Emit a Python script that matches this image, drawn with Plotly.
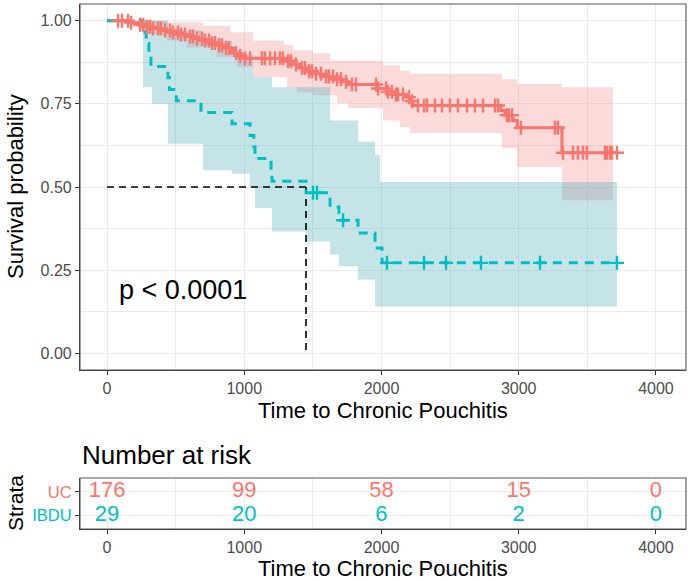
import numpy as np
import plotly.graph_objects as go

# ---------------- data ----------------
uc_time = [0, 170, 230, 280, 330, 400, 460, 520, 580, 640, 700, 760, 810, 860, 900, 930,
           960, 1000, 1310, 1350, 1400, 1450, 1500, 1560, 1650, 1720, 1760, 1967, 2040,
           2100, 2186, 2210, 2230, 2870, 2900, 2958, 2990, 3315, 3716]
uc_surv = [1.0, 0.994, 0.988, 0.982, 0.976, 0.970, 0.964, 0.958, 0.952, 0.946, 0.940,
           0.933, 0.926, 0.918, 0.910, 0.902, 0.894, 0.887, 0.878, 0.868, 0.858, 0.848,
           0.840, 0.832, 0.824, 0.816, 0.808, 0.796, 0.786, 0.778, 0.770, 0.758, 0.745,
           0.730, 0.716, 0.700, 0.678, 0.603, 0.603]
uc_upper_time = [0, 440, 700, 900, 1064, 1290, 1355, 1501, 1625, 2011, 2135, 2208, 2878,
                 2987, 3315, 3687]
uc_upper = [1.0, 0.995, 0.985, 0.965, 0.94, 0.926, 0.911, 0.902, 0.88, 0.866, 0.85, 0.84,
            0.824, 0.81, 0.80, 0.80]
uc_lower_time = [0, 170, 262, 437, 583, 801, 947, 1064, 1311, 1384, 1501, 1676, 1756, 2011,
                 2135, 2208, 2878, 2987, 3315, 3687]
uc_lower = [1.0, 0.98, 0.96, 0.94, 0.92, 0.89, 0.86, 0.83, 0.80, 0.785, 0.776, 0.752, 0.737,
            0.70, 0.68, 0.662, 0.617, 0.56, 0.46, 0.46]
uc_censor = [80, 109, 153, 175, 240, 262, 291, 313, 335, 372, 393, 423, 459, 481, 517, 539,
             568, 605, 627, 656, 692, 714, 743, 765, 787, 816, 838, 867, 889, 940, 969, 1005,
             1042, 1129, 1151, 1188, 1224, 1260, 1282, 1319, 1341, 1377, 1421, 1443, 1472,
             1494, 1523, 1559, 1596, 1617, 1647, 1676, 1705, 1741, 1785, 1814, 1960, 1975,
             2033, 2047, 2076, 2106, 2120, 2157, 2200, 2222, 2266, 2310, 2332, 2390, 2441,
             2499, 2557, 2623, 2681, 2740, 2827, 2849, 2914, 2929, 2951, 3016, 3264, 3286,
             3322, 3395, 3431, 3468, 3497, 3628, 3643, 3665, 3680, 3716]

ibdu_time = [0, 262, 285, 305, 320, 444, 455, 505, 685, 911, 1042, 1070, 1078, 1195, 1202,
             1450, 1625, 1690, 1829, 1953, 2004, 3716]
ibdu_surv = [1.0, 0.966, 0.931, 0.897, 0.862, 0.828, 0.793, 0.759, 0.724, 0.690, 0.655,
             0.621, 0.586, 0.552, 0.517, 0.483, 0.440, 0.400, 0.362, 0.317, 0.272, 0.272]
ibdu_upper_time = [0, 262, 444, 685, 911, 1064, 1202, 1625, 1829, 1953, 1989, 3716]
ibdu_upper = [1.0, 1.0, 0.97, 0.94, 0.90, 0.83, 0.80, 0.70, 0.636, 0.597, 0.515, 0.515]
ibdu_lower_time = [0, 262, 328, 444, 700, 911, 1042, 1078, 1202, 1450, 1625, 1690, 1829,
                   1953, 3716]
ibdu_lower = [1.0, 0.80, 0.75, 0.63, 0.55, 0.54, 0.50, 0.437, 0.366, 0.336, 0.297, 0.261,
              0.222, 0.141, 0.141]
ibdu_censor = [1501, 1530, 1720, 2040, 2310, 2470, 2725, 3155, 3716]

risk_times = [0, 1000, 2000, 3000, 4000]
uc_risk = [176, 99, 58, 15, 0]
ibdu_risk = [29, 20, 6, 2, 0]
strata = ["UC", "IBDU"]
p_label = "p < 0.0001"

x_ticks = [0, 1000, 2000, 3000, 4000]
y_ticks = [0.0, 0.25, 0.50, 0.75, 1.00]
y_ticklabels = ["0.00", "0.25", "0.50", "0.75", "1.00"]

# ---------------- styling ----------------
RED = "#F8766D"
TEAL = "#00BFC4"
RED_FILL = "rgba(242,132,132,0.30)"
TEAL_FILL = "rgba(58,165,178,0.30)"
FONT = "Liberation Sans, Arial, Helvetica, sans-serif"
GRID = "#EBEBEB"
TICKC = "#4D4D4D"

W, H = 690, 581
XL, XR = 80, 686
MAIN_TOP, MAIN_BOT = 4, 370
TAB_TOP, TAB_BOT = 478, 529
XRANGE = [-197, 4219]


def step_at(times, vals, t):
    times = np.asarray(times)
    vals = np.asarray(vals)
    idx = np.searchsorted(times, np.asarray(t), side="right") - 1
    return vals[idx]


fig = go.Figure()

# confidence ribbons
for lt, lv, ut, uv, fc in [
    (uc_lower_time, uc_lower, uc_upper_time, uc_upper, RED_FILL),
    (ibdu_lower_time, ibdu_lower, ibdu_upper_time, ibdu_upper, TEAL_FILL),
]:
    fig.add_trace(go.Scatter(x=lt, y=lv, mode="lines", line=dict(width=0, shape="hv"),
                             hoverinfo="skip", showlegend=False))
    fig.add_trace(go.Scatter(x=ut, y=uv, mode="lines", line=dict(width=0, shape="hv"),
                             fill="tonexty", fillcolor=fc, hoverinfo="skip",
                             showlegend=False))

# median lines
med_t = float(np.asarray(ibdu_time)[np.argmax(np.asarray(ibdu_surv) <= 0.5)])
fig.add_trace(go.Scatter(x=[0, med_t], y=[0.5, 0.5], mode="lines",
                         line=dict(color="black", width=1.6, dash="7px,5px"),
                         showlegend=False, hoverinfo="skip"))
fig.add_trace(go.Scatter(x=[med_t, med_t], y=[0.5, 0.0], mode="lines",
                         line=dict(color="black", width=1.6, dash="7px,5px"),
                         showlegend=False, hoverinfo="skip"))

# survival curves
fig.add_trace(go.Scatter(x=uc_time, y=uc_surv, mode="lines",
                         line=dict(color=RED, width=3, shape="hv"), showlegend=False))
fig.add_trace(go.Scatter(x=ibdu_time, y=ibdu_surv, mode="lines",
                         line=dict(color=TEAL, width=3, shape="hv", dash="9px,7px"),
                         showlegend=False))

# censor marks
for ct, tt, sv, col in [(uc_censor, uc_time, uc_surv, RED),
                        (ibdu_censor, ibdu_time, ibdu_surv, TEAL)]:
    fig.add_trace(go.Scatter(x=ct, y=step_at(tt, sv, ct), mode="markers",
                             marker=dict(symbol="cross-thin", size=10, color=col,
                                         line=dict(color=col, width=2.4)),
                             showlegend=False))

# risk table numbers
for row, (vals, col) in enumerate([(uc_risk, RED), (ibdu_risk, TEAL)]):
    fig.add_trace(go.Scatter(x=risk_times, y=[len(strata) - 1 - row] * len(vals),
                             mode="text", text=[str(v) for v in vals],
                             textfont=dict(family=FONT, size=22, color=col),
                             textposition="middle center", showlegend=False,
                             xaxis="x2", yaxis="y2"))


def axis_common(size=16):
    return dict(
        showline=True, linecolor="#333333", linewidth=1.1, mirror=False,
        ticks="outside", ticklen=4, tickwidth=1.1, tickcolor="#333333",
        tickfont=dict(family=FONT, size=size, color=TICKC),
        gridcolor=GRID, gridwidth=1.1, zeroline=False,
    )


fig.update_layout(
    width=W, height=H, margin=dict(l=0, r=0, t=0, b=0),
    paper_bgcolor="white", plot_bgcolor="white", showlegend=False,
    font=dict(family=FONT),
    xaxis=dict(domain=[XL / W, XR / W], range=XRANGE, tickvals=x_ticks,
               ticktext=[str(v) for v in x_ticks], anchor="y",
               minor=dict(dtick=500, tick0=0, showgrid=True, gridcolor=GRID, gridwidth=0.6),
               **axis_common()),
    yaxis=dict(domain=[1 - MAIN_BOT / H, 1 - MAIN_TOP / H], range=[-0.05, 1.05],
               tickvals=y_ticks, ticktext=y_ticklabels, anchor="x",
               minor=dict(dtick=0.125, tick0=0, showgrid=True, gridcolor=GRID, gridwidth=0.6),
               **axis_common()),
    xaxis2=dict(domain=[XL / W, XR / W], range=XRANGE, tickvals=x_ticks,
                ticktext=[str(v) for v in x_ticks], anchor="y2",
                minor=dict(dtick=500, tick0=0, showgrid=True, gridcolor=GRID, gridwidth=0.6),
                **axis_common()),
    yaxis2=dict(domain=[1 - TAB_BOT / H, 1 - TAB_TOP / H], range=[-0.6, 1.6],
                tickvals=[1, 0],
                ticktext=[f'<span style="color:{RED}">{strata[0]}</span>',
                          f'<span style="color:{TEAL}">{strata[1]}</span>'],
                anchor="x2", **axis_common(16.5)),
)

# panel borders
for (y0, y1) in [(MAIN_TOP, MAIN_BOT), (TAB_TOP, TAB_BOT)]:
    fig.add_shape(type="rect", xref="paper", yref="paper",
                  x0=XL / W, x1=XR / W, y0=1 - y1 / H, y1=1 - y0 / H,
                  line=dict(color="#555555", width=1.1), fillcolor="rgba(0,0,0,0)",
                  layer="above")

ann = []
ann.append(dict(text="Time to Chronic Pouchitis", x=(XL + XR) / 2 / W, y=1 - 410 / H,
                xref="paper", yref="paper", showarrow=False, xanchor="center",
                yanchor="middle", font=dict(family=FONT, size=22, color="black")))
ann.append(dict(text="Survival probability", x=15 / W, y=1 - 187 / H,
                xref="paper", yref="paper", showarrow=False, textangle=-90,
                xanchor="center", yanchor="middle",
                font=dict(family=FONT, size=22, color="black")))
ann.append(dict(text=p_label, x=75, y=0.19, xref="x", yref="y", showarrow=False,
                xanchor="left", yanchor="middle",
                font=dict(family=FONT, size=27, color="black")))
ann.append(dict(text="Number at risk", x=XL / W, y=1 - 455 / H, xref="paper", yref="paper",
                showarrow=False, xanchor="left", yanchor="middle",
                font=dict(family=FONT, size=26, color="black")))
ann.append(dict(text="Time to Chronic Pouchitis", x=(XL + XR) / 2 / W, y=1 - 568 / H,
                xref="paper", yref="paper", showarrow=False, xanchor="center",
                yanchor="middle", font=dict(family=FONT, size=22, color="black")))
ann.append(dict(text="Strata", x=15 / W, y=1 - 503 / H, xref="paper", yref="paper",
                showarrow=False, textangle=-90, xanchor="center", yanchor="middle",
                font=dict(family=FONT, size=21, color="black")))
fig.update_layout(annotations=ann)

fig.write_html("out.html", config={"displayModeBar": False},
               post_script="document.body.style.margin='0';document.body.style.padding='0';")
